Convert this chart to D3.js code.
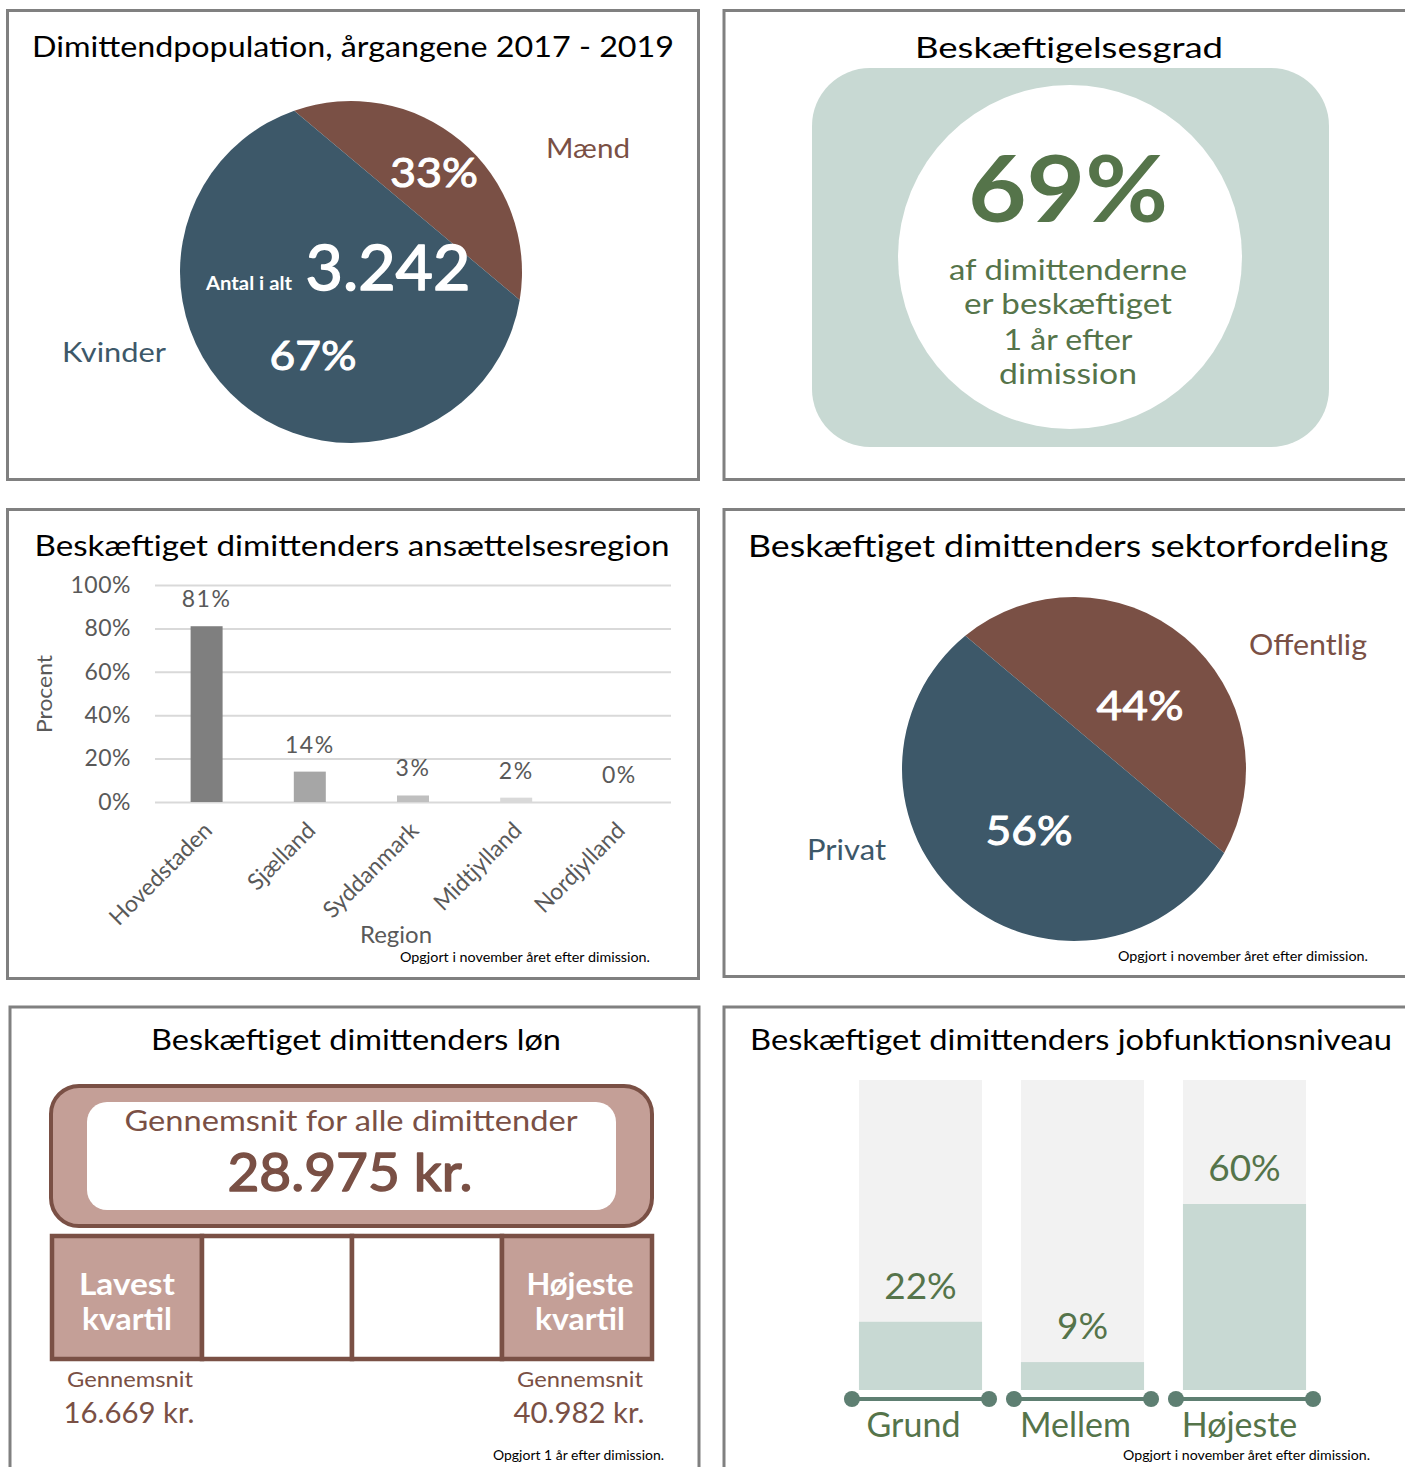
<!DOCTYPE html>
<html><head><meta charset="utf-8">
<script src="https://cdn.jsdelivr.net/npm/d3@7"></script>
<style>
body{margin:0;background:#fff;}
svg{display:block;}
text{font-family:Lato,"Open Sans",sans-serif;}
</style>
</head><body>
<svg id="c" width="1405" height="1467"></svg>
<script>
// ---------------- DATA ----------------
const genderLabels = ["Mænd", "Kvinder"];
const genderValues = [33, 67];
const totalCount = 3242;
const employmentRate = 69;
const employmentText = ["af dimittenderne", "er beskæftiget", "1 år efter", "dimission"];
const regionCategories = ["Hovedstaden", "Sjælland", "Syddanmark", "Midtjylland", "Nordjylland"];
const regionValues = [81, 14, 3, 2, 0];
const regionTicks = [0, 20, 40, 60, 80, 100];
const sectorLabels = ["Offentlig", "Privat"];
const sectorValues = [44, 56];
const salaryAverage = 28975;
const quartileLabels = [["Lavest", "kvartil"], [], [], ["Højeste", "kvartil"]];
const quartileAverages = [16669, null, null, 40982];
const jobLevels = ["Grund", "Mellem", "Højeste"];
const jobValues = [22, 9, 60];

// ---------------- HELPERS ----------------
const svg = d3.select("#c");
const da = d3.formatLocale({decimal: ",", thousands: ".", grouping: [3], currency: ["", ""]});
const fmt = da.format(",d");
const BLUE = "#3d5869", BROWN = "#7a5045", GREEN = "#55744a", GRAY = "#595959";

function label(g, s, x, y, o = {}) {
  const t = g.append("text").attr("x", x).attr("y", y).text(s)
    .attr("font-size", o.size || 20).attr("fill", o.fill || "#000")
    .attr("text-anchor", o.anchor || "middle").attr("font-weight", o.weight || 400);
  if (o.w) t.attr("textLength", o.w).attr("lengthAdjust", "spacingAndGlyphs");
  if (o.thick) t.attr("stroke", o.fill || "#000").attr("stroke-width", o.thick).attr("stroke-linejoin", "round");
  return t;
}
function panel(x, y, w, h) {
  svg.append("rect").attr("x", x).attr("y", y).attr("width", w).attr("height", h)
    .attr("fill", "none").attr("stroke", "#808080").attr("stroke-width", 3);
}
function chordPie(g, cx, cy, r, values, colors, centerDeg) {
  const a0 = centerDeg * Math.PI / 180 - values[0] / d3.sum(values) * Math.PI;
  const arcs = d3.pie().sort(null).startAngle(a0).endAngle(a0 + 2 * Math.PI)(values);
  const p = a => [cx + r * Math.sin(a), cy - r * Math.cos(a)];
  arcs.forEach((a, i) => {
    const [x0, y0] = p(a.startAngle), [x1, y1] = p(a.endAngle);
    const large = (a.endAngle - a.startAngle) > Math.PI ? 1 : 0;
    g.append("path").attr("d", `M${x0},${y0}A${r},${r} 0 ${large} 1 ${x1},${y1}Z`).attr("fill", colors[i]);
  });
  return arcs;
}

// ---------------- PANELS ----------------
panel(7.5, 10.5, 691, 469);
panel(724, 10.5, 700, 469);
panel(7.5, 509.5, 691, 469);
panel(724, 509.5, 700, 467);
panel(10, 1007, 689, 480);
panel(724, 1007, 700, 480);

// ---------------- PANEL 1: gender pie ----------------
{
  const g = svg.append("g");
  label(g, "Dimittendpopulation, årgangene 2017 - 2019", 353, 57, {size: 28, w: 642});
  chordPie(g, 351, 272, 171, genderValues, [BROWN, BLUE], 40);
  label(g, genderLabels[0], 546, 158, {size: 27, fill: BROWN, anchor: "start", w: 84});
  label(g, genderValues[0] + "%", 434, 187, {size: 40, fill: "#fff", thick: 1, w: 88});
  label(g, "Antal i alt", 249, 290, {size: 19, fill: "#fff", weight: 700, w: 86});
  label(g, fmt(totalCount), 388, 290, {size: 62, fill: "#fff", thick: 1.5, w: 165});
  label(g, genderLabels[1], 62, 362, {size: 27, fill: BLUE, anchor: "start", w: 104});
  label(g, genderValues[1] + "%", 313, 370, {size: 40, fill: "#fff", thick: 1, w: 87});
}

// ---------------- PANEL 2: employment rate ----------------
{
  const g = svg.append("g");
  label(g, "Beskæftigelsesgrad", 1069, 58, {size: 29, w: 308});
  g.append("rect").attr("x", 812).attr("y", 68).attr("width", 517).attr("height", 379)
    .attr("rx", 58).attr("fill", "#c8d9d3");
  g.append("circle").attr("cx", 1070).attr("cy", 257).attr("r", 172).attr("fill", "#fff");
  label(g, employmentRate + "%", 1068, 222, {size: 92, fill: GREEN, weight: 700, w: 200});
  const widths = [238, 208, 129, 138], ys = [280, 314, 350, 384];
  employmentText.forEach((s, i) => label(g, s, 1068, ys[i], {size: 29, fill: GREEN, w: widths[i]}));
}

// ---------------- PANEL 3: region bar chart ----------------
{
  const g = svg.append("g");
  label(g, "Beskæftiget dimittenders ansættelsesregion", 352, 556, {size: 29, w: 635});
  const x = d3.scaleBand().domain(regionCategories).range([155, 671]).paddingInner(0.69).paddingOuter(0.345);
  const y = d3.scaleLinear().domain([0, 100]).range([802, 585]);
  const yAx = g.append("g").attr("transform", "translate(155,0)")
    .call(d3.axisLeft(y).tickValues(regionTicks).tickFormat(d => d + "%").tickSize(-516).tickPadding(24));
  yAx.select(".domain").remove();
  yAx.selectAll(".tick line").attr("stroke", "#d9d9d9").attr("stroke-width", 2);
  yAx.selectAll(".tick text").attr("font-size", 23).attr("fill", GRAY).attr("font-family", "Lato")
    .attr("letter-spacing", 0.5);
  const barColors = ["#7f7f7f", "#a6a6a6", "#bfbfbf", "#d9d9d9", "#ececec"];
  g.selectAll(".bar").data(regionValues).join("rect")
    .attr("x", (d, i) => x(regionCategories[i])).attr("width", x.bandwidth())
    .attr("y", d => y(d)).attr("height", d => y(0) - y(d))
    .attr("fill", (d, i) => barColors[i]);
  regionValues.forEach((v, i) => label(g, v + "%", x(regionCategories[i]) + x.bandwidth() / 2, y(v) - 19,
    {size: 23, fill: GRAY}).attr("letter-spacing", 1.5));
  const xAx = g.append("g").attr("transform", "translate(0,802)").call(d3.axisBottom(x).tickSize(0));
  xAx.select(".domain").remove();
  xAx.selectAll(".tick text").attr("font-size", 23).attr("fill", GRAY).attr("font-family", "Lato")
    .attr("text-anchor", "end").attr("dy", null).attr("y", null)
    .attr("transform", "translate(7,30) rotate(-45)");
  label(g, "Region", 396, 943, {size: 23, fill: GRAY, w: 72});
  label(g, "Procent", 0, 0, {size: 22, fill: GRAY, w: 78}).attr("transform", "translate(52,694) rotate(-90)");
  label(g, "Opgjort  i november  året efter dimission.", 400, 962, {size: 13, anchor: "start", w: 250});
}

// ---------------- PANEL 4: sector pie ----------------
{
  const g = svg.append("g");
  label(g, "Beskæftiget dimittenders sektorfordeling", 1068, 557, {size: 30, w: 640});
  chordPie(g, 1074, 769, 172, sectorValues, [BROWN, BLUE], 40);
  label(g, sectorLabels[0], 1249, 655, {size: 29, fill: BROWN, anchor: "start", w: 118});
  label(g, sectorValues[0] + "%", 1140, 720, {size: 40, fill: "#fff", thick: 1, w: 87});
  label(g, sectorValues[1] + "%", 1029, 845, {size: 40, fill: "#fff", thick: 1, w: 87});
  label(g, sectorLabels[1], 807, 860, {size: 28, fill: BLUE, anchor: "start", w: 79});
  label(g, "Opgjort  i november  året efter dimission.", 1118, 961, {size: 13, anchor: "start", w: 250});
}

// ---------------- PANEL 5: salary ----------------
{
  const g = svg.append("g");
  const PINK = "#c49f97";
  label(g, "Beskæftiget dimittenders løn", 356, 1050, {size: 29, w: 410});
  g.append("rect").attr("x", 51).attr("y", 1086).attr("width", 601).attr("height", 140)
    .attr("rx", 28).attr("fill", PINK).attr("stroke", BROWN).attr("stroke-width", 4);
  g.append("rect").attr("x", 87).attr("y", 1102).attr("width", 529).attr("height", 108)
    .attr("rx", 20).attr("fill", "#fff");
  label(g, "Gennemsnit for alle dimittender", 351, 1131, {size: 29, fill: BROWN, w: 453});
  label(g, fmt(salaryAverage) + " kr.", 350, 1191, {size: 52, fill: BROWN, thick: 1.5, w: 245});
  const q = d3.scaleBand().domain(d3.range(quartileAverages.length)).range([52, 652]);
  quartileAverages.forEach((v, i) => {
    g.append("rect").attr("x", q(i)).attr("y", 1236).attr("width", q.bandwidth()).attr("height", 123)
      .attr("fill", v == null ? "#fff" : PINK).attr("stroke", BROWN).attr("stroke-width", 4.5);
    const cx = q(i) + q.bandwidth() / 2;
    quartileLabels[i].forEach((s, j) => label(g, s, cx + (i === 0 ? 0 : 3), 1295 + j * 35,
      {size: 30, fill: "#fff", weight: 700, w: s === "kvartil" ? 90 : (s === "Lavest" ? 96 : 107)}));
    if (v != null) {
      label(g, "Gennemsnit", cx + 3, 1387, {size: 22, fill: BROWN, w: 126});
      label(g, fmt(v) + " kr.", cx + 2, 1423, {size: 28, fill: BROWN, w: 131});
    }
  });
  label(g, "Opgjort  1 år efter dimission.", 493, 1460, {size: 13, anchor: "start", w: 171});
}

// ---------------- PANEL 6: job function level ----------------
{
  const g = svg.append("g");
  label(g, "Beskæftiget dimittenders jobfunktionsniveau", 1071, 1050, {size: 28, w: 642});
  const x = d3.scaleBand().domain(jobLevels).range([839.5, 1325.5]).paddingInner(0.24).paddingOuter(0.12);
  const y = d3.scaleLinear().domain([0, 100]).range([1390, 1080]);
  jobLevels.forEach((c, i) => {
    const bx = x(c), bw = x.bandwidth(), v = jobValues[i];
    g.append("rect").attr("x", bx).attr("y", y(100)).attr("width", bw).attr("height", y(0) - y(100)).attr("fill", "#f2f2f2");
    g.append("rect").attr("x", bx).attr("y", y(v)).attr("width", bw).attr("height", y(0) - y(v)).attr("fill", "#c8d9d3");
    label(g, v + "%", bx + bw / 2, y(v) - 23, {size: 37, fill: GREEN});
    const LC = "#5e7f72";
    g.append("line").attr("x1", bx - 7).attr("x2", bx + bw + 7).attr("y1", 1399).attr("y2", 1399)
      .attr("stroke", LC).attr("stroke-width", 4);
    g.append("circle").attr("cx", bx - 7).attr("cy", 1399).attr("r", 8).attr("fill", LC);
    g.append("circle").attr("cx", bx + bw + 7).attr("cy", 1399).attr("r", 8).attr("fill", LC);
    label(g, c, bx + bw / 2 - 7 + (i === 2 ? 2 : 0), 1437, {size: 34, fill: GREEN});
  });
  label(g, "Opgjort  i november  året efter dimission.", 1123, 1460, {size: 13, anchor: "start", w: 247});
}
</script>
</body></html>
